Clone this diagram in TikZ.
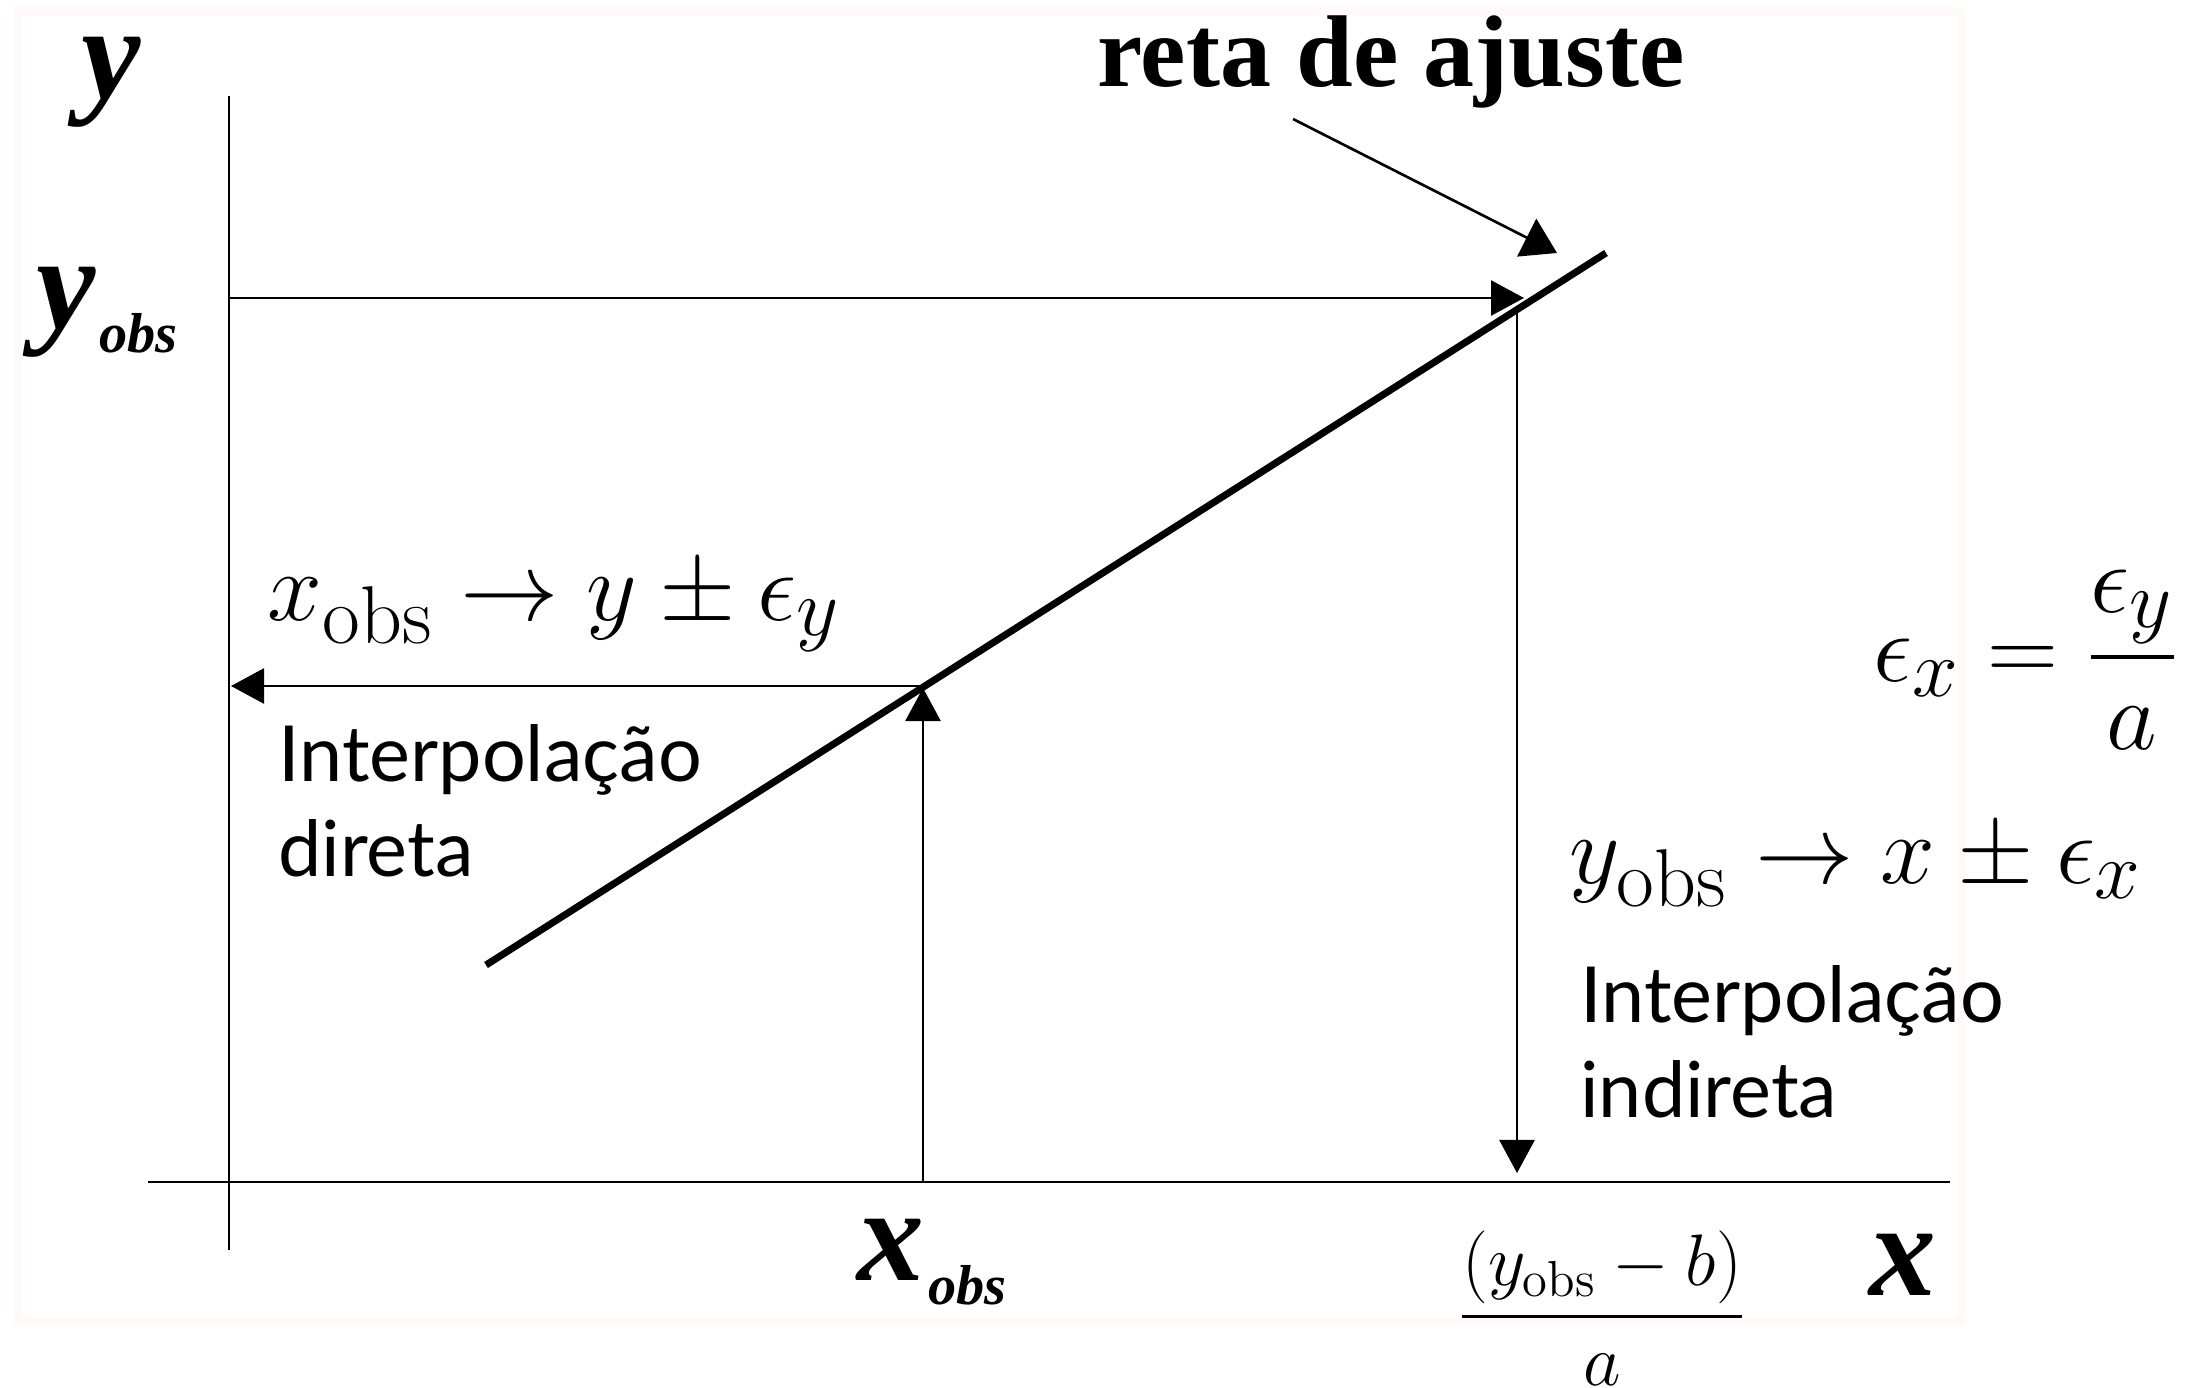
\documentclass[tikz,border=0pt]{standalone}
\usepackage{amsmath}
\usepackage{fontspec}
\usetikzlibrary{arrows.meta,positioning}
\newfontfamily\timesfont{Liberation Serif}
\newfontfamily\gillfont{Lato}
\definecolor{framepink}{RGB}{255,249,249}

\begin{document}
\begin{tikzpicture}[
        x=0.01cm, y=-0.01cm,
        node distance=0.3cm,
        axis/.style={line width=0.6pt},
        fitline/.style={line width=2pt},
        arrow/.style={-{Triangle[length=0.33cm, width=0.35cm]}, line width=0.75pt},
        leader/.style={-{Triangle[length=0.34cm, width=0.42cm]}, line width=0.75pt},
        varlbl/.style={inner sep=0pt, font=\timesfont\bfseries\itshape\fontsize{38}{40}\selectfont},
        titlelbl/.style={inner sep=0pt, font=\timesfont\bfseries\fontsize{29}{32}\selectfont},
        eqlbl/.style={inner sep=0pt, scale=1.125, font=\fontsize{24.88}{30}\selectfont},
        fraclbl/.style={inner sep=0pt, font=\fontsize{20.74}{24}\selectfont},
        txtlbl/.style={inner sep=0pt, align=left, font=\gillfont\fontsize{22}{27}\selectfont}
    ]
    \useasboundingbox (0,0) rectangle (2203,1388);
    \draw[framepink, line width=2pt] (18,11) rectangle (1961,1321);

    % axes
    \coordinate (ytop) at (229,96);
    \coordinate (ybot) at (229,1250);
    \coordinate (xleft) at (148,1182);
    \coordinate (xright) at (1950,1182);
    \draw[axis] (ytop) -- (ybot);
    \draw[axis] (xleft) -- (xright);

    % reta de ajuste
    \coordinate (fitA) at (486,965);
    \coordinate (fitB) at (1606,253);
    \draw[fitline] (fitA) -- (fitB);

    % pontos usados nas setas
    \coordinate (xobs) at (923,1182);
    \coordinate (xobsfit) at (923,688);
    \coordinate (yobsaxis) at (229,298);
    \coordinate (yobsfit) at (1524,298);
    \coordinate (xfitstart) at (1517,308);
    \coordinate (xfitend) at (1517,1173);
    \coordinate (ylevel) at (923,686);
    \coordinate (yaxishit) at (231,686);
    \coordinate (leaderA) at (1293,119);
    \coordinate (leaderB) at (1557,253);

    \node[varlbl] (ylbl) at (111,82) {y};
    \node[varlbl, anchor=west] (yobslbl) at (36,312) {y\hspace{1pt}\raisebox{-7pt}{\fontsize{16}{18}\selectfont obs}};
    \node[titlelbl] (fitlbl) at (1391,62) {reta de ajuste};
    \node[varlbl, anchor=west] (xobslbl) at (857,1262) {x\hspace{1pt}\raisebox{-7pt}{\fontsize{16}{18}\selectfont obs}};
    \node[varlbl] (xlbl) at (1903,1265) {x};

    \node[eqlbl, anchor=west] (dirlbl) at (267,607) {$x_{\mathrm{obs}} \rightarrow y \pm \epsilon_y$};
    \node[txtlbl, below=0.72cm of dirlbl.south west, anchor=north west, xshift=3pt] (dirtxt) {Interpolação\\direta};
    \node[eqlbl, anchor=west] (errlbl) at (1873,660) {$\epsilon_x = \dfrac{\epsilon_y}{a}$};
    \node[eqlbl, anchor=west] (indlbl) at (1569,867) {$y_{\mathrm{obs}} \rightarrow x \pm \epsilon_x$};
    \node[txtlbl, below=0.56cm of indlbl.south west, anchor=north west, xshift=3pt] (indtxt) {Interpolação\\indireta};
    \node[fraclbl] (invlbl) at (1602,1308) {$\dfrac{(y_{\mathrm{obs}} - b)}{a}$};

    \draw[leader] (leaderA) -- (leaderB);
    \draw[arrow] (yobsaxis) -- (yobsfit);
    \draw[arrow] (xfitstart) -- (xfitend);
    \draw[arrow] (xobs) -- (xobsfit);
    \draw[arrow] (ylevel) -- (yaxishit);
\end{tikzpicture}
\end{document}
